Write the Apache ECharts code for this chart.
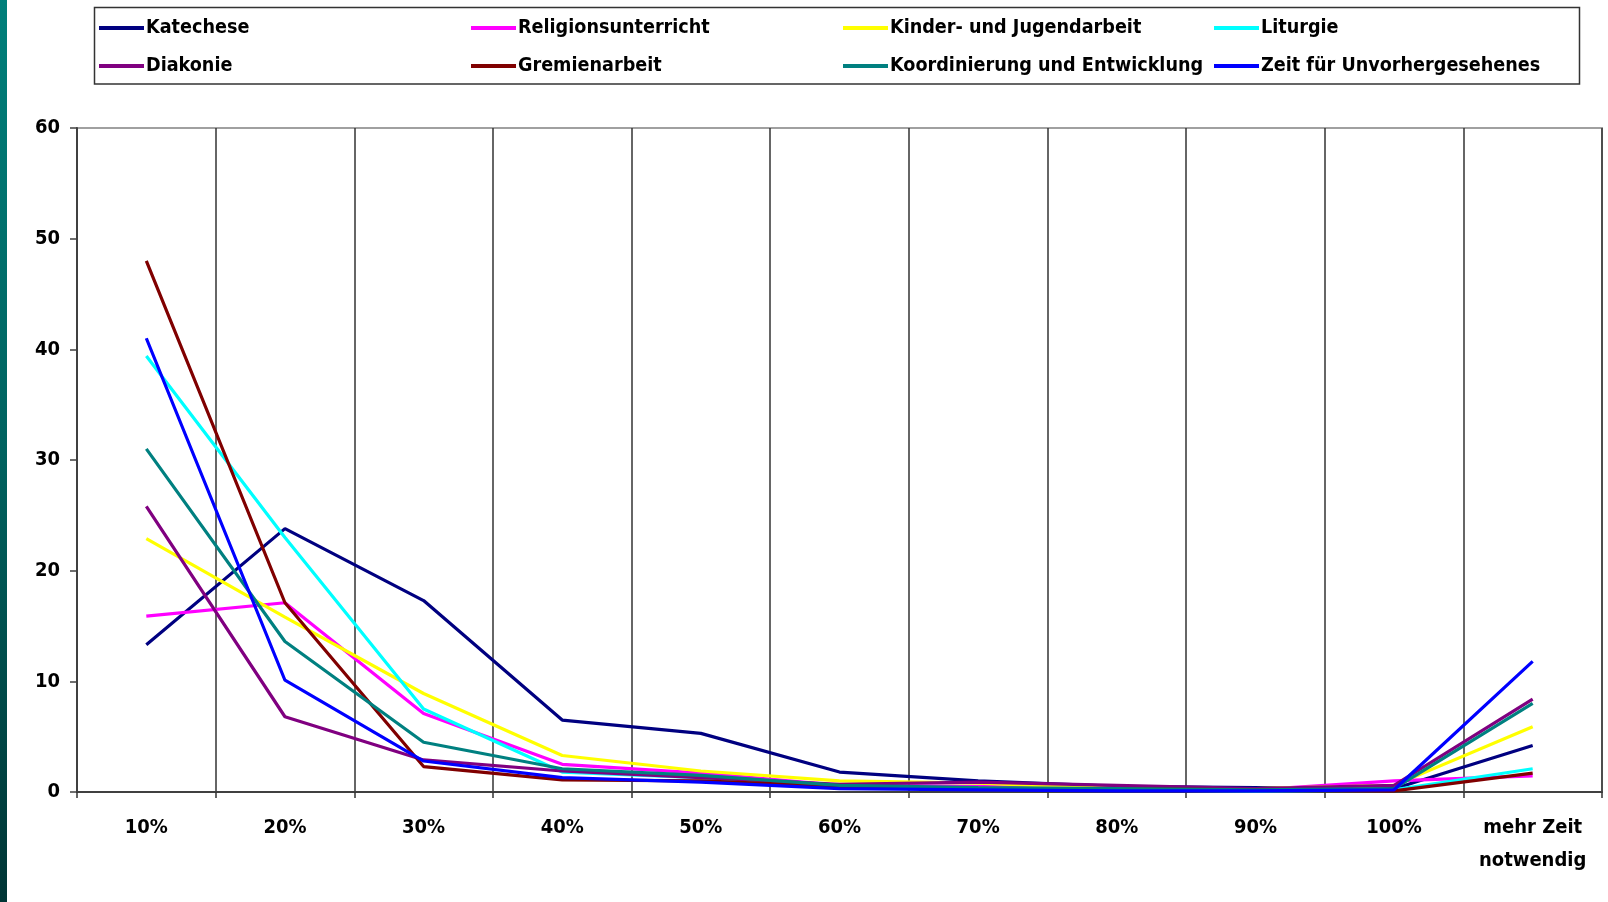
<!DOCTYPE html>
<html>
<head>
<meta charset="utf-8">
<script src="https://cdn.jsdelivr.net/npm/echarts@6/dist/echarts.min.js"></script>
<style>
  html, body { margin: 0; padding: 0; background: #ffffff; }
  #chart { width: 1608px; height: 902px; }
</style>
</head>
<body>
<div id="chart"></div>
<script>
// ---- data ----
const categories = ['10%', '20%', '30%', '40%', '50%', '60%', '70%', '80%', '90%', '100%', 'mehr Zeit\nnotwendig'];
const yTicks = [0, 10, 20, 30, 40, 50, 60];

const seriesNames = [
  'Katechese', 'Religionsunterricht', 'Kinder- und Jugendarbeit', 'Liturgie',
  'Diakonie', 'Gremienarbeit', 'Koordinierung und Entwicklung', 'Zeit für Unvorhergesehenes'
];
const katechese            = [13.3, 23.8, 17.3, 6.5, 5.3, 1.8, 1.0, 0.5, 0.4, 0.3, 4.2];
const religionsunterricht  = [15.9, 17.1, 7.1, 2.5, 1.7, 0.6, 0.5, 0.3, 0.2, 1.0, 1.45];
const kinderJugendarbeit   = [22.9, 15.8, 8.9, 3.3, 1.9, 1.0, 0.8, 0.3, 0.3, 0.6, 5.9];
const liturgie             = [39.4, 23.0, 7.5, 1.8, 1.3, 0.4, 0.3, 0.2, 0.1, 0.2, 2.1];
const diakonie             = [25.8, 6.8, 2.9, 1.9, 1.3, 0.7, 0.9, 0.6, 0.3, 0.6, 8.4];
const gremienarbeit        = [48.0, 17.1, 2.3, 1.1, 1.0, 0.5, 0.3, 0.3, 0.2, 0.1, 1.7];
const koordinierung        = [31.0, 13.6, 4.5, 2.1, 1.5, 0.6, 0.4, 0.3, 0.2, 0.3, 8.0];
const unvorhergesehenes    = [41.0, 10.1, 2.8, 1.3, 0.9, 0.3, 0.2, 0.1, 0.1, 0.2, 11.8];

const seriesValues = [katechese, religionsunterricht, kinderJugendarbeit, liturgie,
  diakonie, gremienarbeit, koordinierung, unvorhergesehenes];
const seriesColors = ['#000080', '#ff00ff', '#ffff00', '#00ffff',
  '#800080', '#800000', '#008080', '#0000ff'];

// ---- layout ----
const FONT = "'DejaVu Sans Condensed', 'DejaVu Sans', sans-serif";
const legendCols = [99, 471, 843, 1214];
const legendRows = [28, 66];

const legends = seriesNames.map((name, i) => ({
  data: [name],
  left: legendCols[i % 4],
  top: legendRows[Math.floor(i / 4)] - 12,
  padding: 0,
  icon: 'rect',
  itemWidth: 45,
  itemHeight: 4,
  itemGap: 0,
  selectedMode: false,
  textStyle: { fontFamily: FONT, fontSize: 19.6, fontWeight: 'bold', color: '#000', lineHeight: 24, padding: [0, 0, 0, -3] }
}));

const chart = echarts.init(document.getElementById('chart'), null, { renderer: 'canvas' });
chart.setOption({
  animation: false,
  backgroundColor: '#ffffff',
  textStyle: { fontFamily: FONT },
  legend: legends,
  graphic: [
    {
      type: 'rect', left: 0, top: 0, z: 100,
      shape: { x: 0, y: 0, width: 7, height: 902 },
      style: {
        fill: new echarts.graphic.LinearGradient(0, 0, 0, 1, [
          { offset: 0, color: '#007f7a' },
          { offset: 0.5, color: '#00625f' },
          { offset: 1, color: '#003535' }
        ])
      }
    },
    {
      type: 'rect', z: 0,
      shape: { x: 94.5, y: 7.5, width: 1485, height: 76.5 },
      style: { fill: 'none', stroke: '#333333', lineWidth: 1.5 }
    }
  ],
  grid: {
    left: 77, right: 6, top: 128, bottom: 110,
    show: true, borderColor: '#a0a0a0', borderWidth: 2, backgroundColor: '#ffffff'
  },
  xAxis: {
    type: 'category',
    data: categories,
    boundaryGap: true,
    axisLine: { lineStyle: { color: '#404040', width: 2 } },
    axisTick: { show: true, length: 6, lineStyle: { color: '#333333', width: 1.5 } },
    splitLine: { show: true, lineStyle: { color: '#333333', width: 1.5 } },
    axisLabel: {
      interval: 0, margin: 19, color: '#000', fontFamily: FONT, fontSize: 20,
      fontWeight: 'bold', lineHeight: 33
    }
  },
  yAxis: {
    type: 'value',
    min: yTicks[0], max: yTicks[yTicks.length - 1], interval: 10,
    axisLine: { show: true, lineStyle: { color: '#404040', width: 2 } },
    axisTick: { show: true, length: 7, lineStyle: { color: '#404040', width: 1.5 } },
    splitLine: { show: false },
    axisLabel: { margin: 17, color: '#000', fontFamily: FONT, fontSize: 20, fontWeight: 'bold' }
  },
  series: seriesNames.map((name, i) => ({
    name: name,
    type: 'line',
    data: seriesValues[i],
    symbol: 'none',
    lineStyle: { color: seriesColors[i], width: 3.2 },
    itemStyle: { color: seriesColors[i] },
    z: 2 + i
  }))
});
</script>
</body>
</html>
